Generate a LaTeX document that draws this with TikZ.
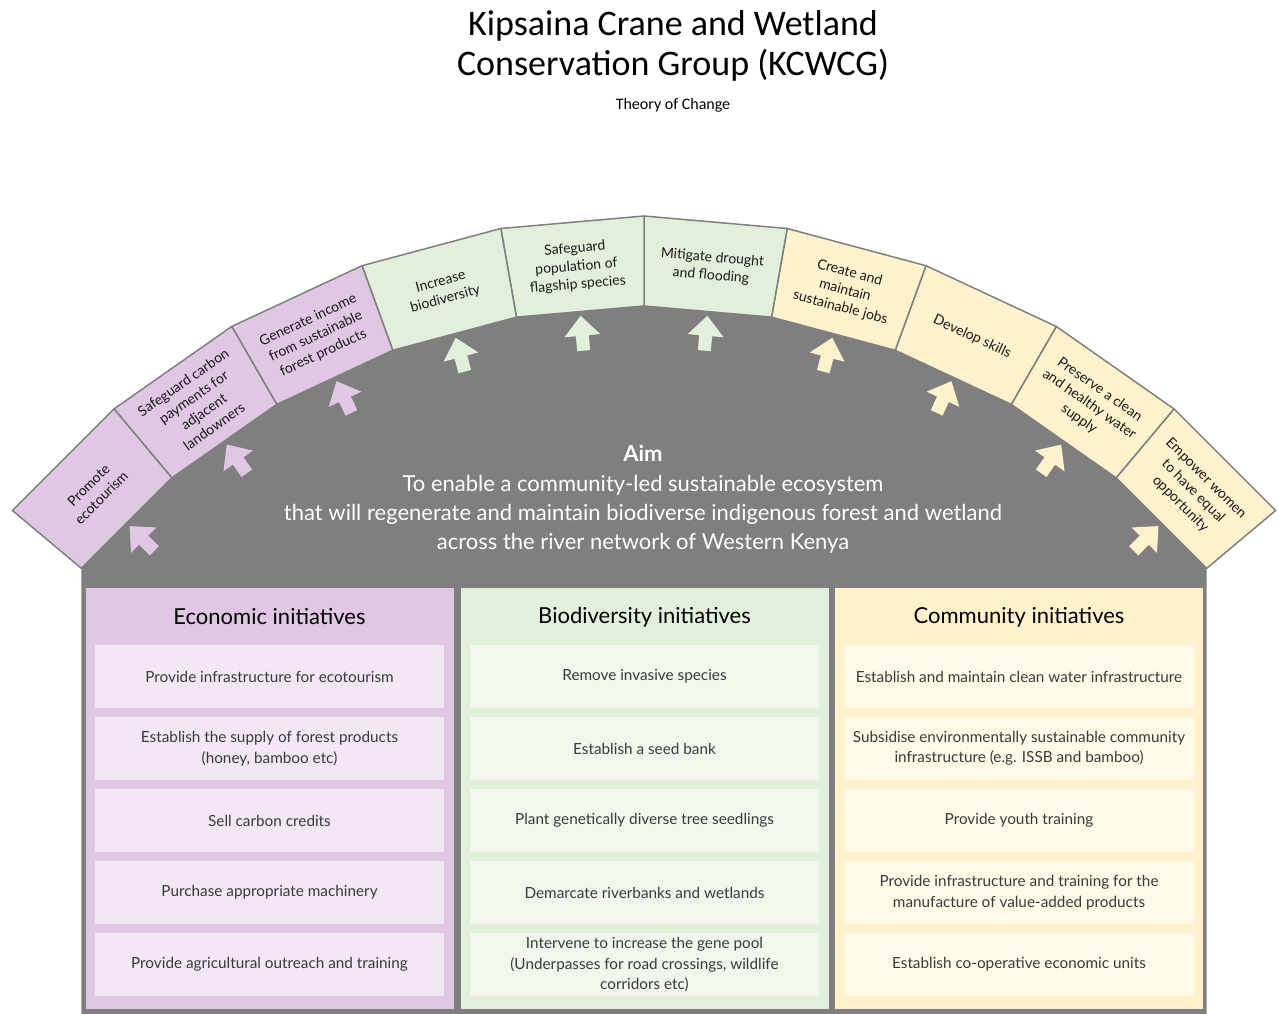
\documentclass[tikz,border=0pt]{standalone}
\usepackage{fontspec}
\setmainfont{Lato}
\newfontfamily\titlefont{Carlito}
\usetikzlibrary{calc}

\definecolor{bodygray}{HTML}{7F7F7F}
\definecolor{econfill}{HTML}{E0C7E4}
\definecolor{econlight}{HTML}{F2E7F4}
\definecolor{biofill}{HTML}{E2EFDA}
\definecolor{biolight}{HTML}{F1F7ED}
\definecolor{commfill}{HTML}{FFF2CC}
\definecolor{commlight}{HTML}{FFF9E7}
\definecolor{itemtext}{HTML}{3A3A3A}

\tikzset{
  tile/.style={draw=bodygray, line width=1.5pt, line join=round},
  tiletext/.style={align=center, inner sep=0pt, text=black!90,
    font=\fontsize{14}{18}\selectfont},
  panel/.style={minimum width=368pt, minimum height=421pt, inner sep=0pt, anchor=north},
  colhead/.style={font=\fontsize{22}{25}\selectfont, text=black},
  item/.style={minimum width=349pt, minimum height=63pt, inner sep=0pt,
    align=center, text=itemtext, font=\fontsize{15.3}{20.5}\selectfont}
}

\begin{document}
\begin{tikzpicture}[x=1pt,y=1pt]
  \useasboundingbox (0,0) rectangle (1278,1014);
  \coordinate (c) at (644,-26.5);

  %% title
  \node[align=center, font=\titlefont\fontsize{36}{40}\selectfont] (title) at (673,968)
    {Kipsaina Crane and Wetland\\Conservation Group (KCWCG)};
  \node[font=\titlefont\fontsize{16}{18}\selectfont] (subtitle) at (673,909) {Theory of Change};

  %% grey body under the arch
  \fill[bodygray] (81.3,0) -- ($(c)+(140:734.5)$)
    \foreach \a in {130,120,...,40} { -- ($(c)+(\a:734.5)$) } -- (1206.7,0) -- cycle;

  %% arch tiles and arrows
  \foreach \a/\txt/\col [count=\i] in {
      40/{Empower women\\to have equal\\opportunity}/commfill,
      50/{Preserve a clean\\and healthy water\\supply}/commfill,
      60/{Develop skills}/commfill,
      70/{Create and\\maintain\\sustainable jobs}/commfill,
      80/{Mitigate drought\\and flooding}/biofill,
      90/{Safeguard\\population of\\flagship species}/biofill,
      100/{Increase\\biodiversity}/biofill,
      110/{Generate income\\from sustainable\\forest products}/econfill,
      120/{Safeguard carbon\\payments for\\adjacent\\landowners}/econfill,
      130/{Promote\\ecotourism}/econfill} {
    \filldraw[tile, fill=\col] ($(c)+(\a:824.5)$) -- ($(c)+(\a+10:824.5)$)
      -- ($(c)+(\a+10:734.5)$) -- ($(c)+(\a:734.5)$) -- cycle;
    \node[tiletext, rotate=\a-85] (seg\i) at ($(c)+(\a+5:776.5)$) {\txt};
    \begin{scope}[shift={($(c)+(\a+5:692.5)$)}, rotate=\a-85]
      \fill[\col] (-6.5,0) -- (-6.5,15) -- (-18,15) -- (0,35) -- (18,15) -- (6.5,15) -- (6.5,0) -- cycle;
    \end{scope}
  }

  %% aim
  \node[text=white, font=\bfseries\fontsize{22}{25}\selectfont] (aim) at (643,561) {Aim};
  \node[text=white, align=center, font=\fontsize{22}{29}\selectfont] (aimtext) at (643,500)
    {To enable a community-led sustainable ecosystem\\
     that will regenerate and maintain biodiverse indigenous forest and wetland\\
     across the river network of Western Kenya};

  %% columns
  \node[panel, fill=econfill] (econ) at (269.5,426) {};
  \node[panel, fill=biofill] (bio) at (644.5,426) {};
  \node[panel, fill=commfill] (comm) at (1019,426) {};
  \node[colhead] (econhead) at (269.5,397) {Economic initiatives};
  \node[colhead] (biohead) at (644.5,397) {Biodiversity initiatives};
  \node[colhead] (commhead) at (1019,397) {Community initiatives};

  \foreach \t [count=\j] in {
      Provide infrastructure for ecotourism,
      {Establish the supply of forest products\\(honey, bamboo etc)},
      Sell carbon credits,
      Purchase appropriate machinery,
      Provide agricultural outreach and training}
    \node[item, fill=econlight] (econ\j) at (269.5,409.5-72*\j) {\t};

  \foreach \t [count=\j] in {
      Remove invasive species,
      Establish a seed bank,
      Plant genetically diverse tree seedlings,
      Demarcate riverbanks and wetlands,
      {Intervene to increase the gene pool\\(Underpasses for road crossings, wildlife\\corridors etc)}}
    \node[item, fill=biolight] (bio\j) at (644.5,409.5-72*\j) {\t};

  \foreach \t [count=\j] in {
      Establish and maintain clean water infrastructure,
      {Subsidise environmentally sustainable community\\infrastructure (e.g. ISSB and bamboo)},
      Provide youth training,
      {Provide infrastructure and training for the\\manufacture of value-added products},
      Establish co-operative economic units}
    \node[item, fill=commlight] (comm\j) at (1019,409.5-72*\j) {\t};

\end{tikzpicture}
\end{document}
